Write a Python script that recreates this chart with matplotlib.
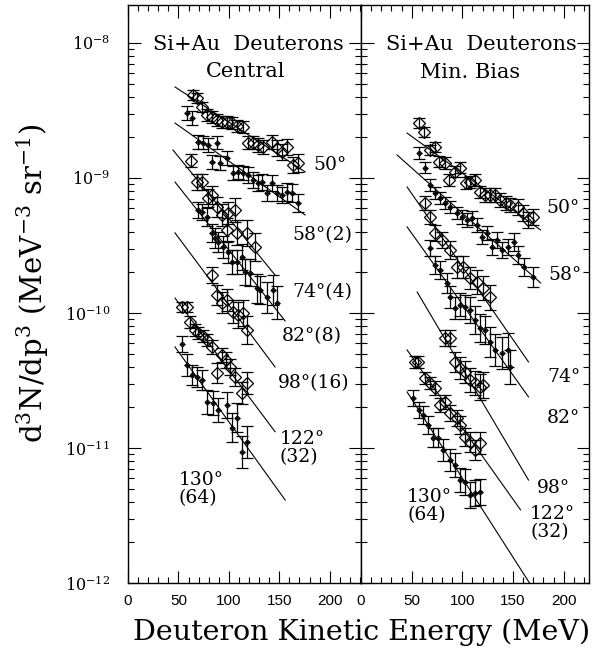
import numpy as np
import matplotlib.pyplot as plt
from matplotlib.ticker import MultipleLocator, LogLocator, NullFormatter

plt.rcParams['font.family'] = ['DejaVu Serif']
plt.rcParams['mathtext.fontset'] = 'dejavuserif'

# ---- Central (left panel) ----
# 50 deg, open diamonds
c50_E = [64.5, 68.5, 73.4, 78.4, 83.3, 88.3, 93.3, 98.2, 103.2, 108.1, 114.1, 119, 124, 129, 134, 142.9, 147.8, 152.8, 157.7, 163.7, 168.7]
c50_y = [4.1e-9, 3.92e-9, 3.36e-9, 2.93e-9, 2.83e-9, 2.69e-9, 2.60e-9, 2.60e-9, 2.55e-9, 2.43e-9, 2.38e-9, 1.82e-9, 1.82e-9, 1.75e-9, 1.70e-9, 1.85e-9, 1.67e-9, 1.56e-9, 1.70e-9, 1.25e-9, 1.29e-9]
c50_err = [0.09, 0.09, 0.09, 0.1, 0.1, 0.1, 0.1, 0.1, 0.1, 0.11, 0.11, 0.12, 0.12, 0.12, 0.13, 0.13, 0.14, 0.14, 0.15, 0.15, 0.16]
# 58 deg (x2), small points
c58_E = [58.5, 63.5, 69.4, 74.4, 79.4, 88.3, 83.3, 91.3, 98.2, 104.2, 109.1, 114.1, 119, 124, 129, 132.9, 137.9, 142.9, 147.8, 152.8, 157.7, 162.7, 168.7]
c58_y = [3.03e-9, 2.78e-9, 1.85e-9, 1.82e-9, 1.75e-9, 1.82e-9, 1.32e-9, 1.29e-9, 1.41e-9, 1.09e-9, 1.11e-9, 1.09e-9, 1.05e-9, 9.66e-10, 9.18e-10, 9.33e-10, 7.74e-10, 9.18e-10, 7.74e-10, 7.48e-10, 7.87e-10, 7.74e-10, 6.53e-10]
c58_err = [0.12, 0.12, 0.12, 0.12, 0.12, 0.12, 0.13, 0.13, 0.13, 0.13, 0.13, 0.13, 0.14, 0.14, 0.14, 0.14, 0.15, 0.15, 0.15, 0.15, 0.16, 0.16, 0.17]
# 74 deg (x4), open diamonds
c74_E = [62.5, 68.5, 73.4, 79.4, 83.3, 88.3, 93.3, 99.2, 106.2, 98.2, 108.1, 118.1, 126]
c74_y = [1.34e-9, 9.33e-10, 9.33e-10, 7.11e-10, 7.48e-10, 6.10e-10, 5.32e-10, 5.51e-10, 5.79e-10, 4.12e-10, 3.92e-10, 3.92e-10, 3.08e-10]
c74_err = [0.12, 0.14, 0.14, 0.16, 0.16, 0.18, 0.2, 0.2, 0.22, 0.22, 0.24, 0.25, 0.26]
# 82 deg (x8), small points
c82_E = [69.4, 73.4, 78.4, 83.3, 86.3, 89.3, 94.2, 99.2, 103.2, 108.1, 113.1, 116.1, 121, 128, 131, 137.9, 143.8, 147.8]
c82_y = [5.79e-10, 5.60e-10, 5.14e-10, 3.92e-10, 3.60e-10, 3.36e-10, 3.08e-10, 2.83e-10, 2.39e-10, 2.39e-10, 2.60e-10, 2.01e-10, 1.98e-10, 1.53e-10, 1.48e-10, 1.31e-10, 1.48e-10, 1.19e-10]
c82_err = [0.15, 0.15, 0.16, 0.17, 0.18, 0.18, 0.2, 0.2, 0.22, 0.22, 0.24, 0.25, 0.26, 0.28, 0.28, 0.3, 0.3, 0.32]
# 98 deg (x16), open diamonds
c98_E = [83.3, 88.3, 93.3, 98.2, 104.2, 109.1, 114.1, 118.1]
c98_y = [1.91e-10, 1.36e-10, 1.19e-10, 1.25e-10, 1.02e-10, 9.66e-11, 1.0e-10, 7.48e-11]
c98_err = [0.15, 0.18, 0.2, 0.2, 0.22, 0.24, 0.25, 0.28]
# 122 deg (x32), open diamonds
c122_E = [53.6, 58.5, 61.5, 66.5, 69.4, 74.4, 78.4, 83.3, 88.3, 93.3, 97.2, 101.2, 106.2, 113.1, 118.1]
c122_y = [1.11e-10, 1.11e-10, 8.57e-11, 7.48e-11, 7.11e-11, 6.76e-11, 6.31e-11, 5.60e-11, 3.60e-11, 4.89e-11, 4.49e-11, 3.98e-11, 3.36e-11, 2.55e-11, 3.03e-11]
c122_err = [0.09, 0.09, 0.1, 0.1, 0.1, 0.11, 0.11, 0.12, 0.18, 0.13, 0.14, 0.15, 0.16, 0.2, 0.2]
# 130 deg (x64), small points
c130_E = [53.6, 58.5, 63.5, 68.5, 73.4, 78.4, 84.3, 89.3, 98.2, 103.2, 108.1, 113.1, 118.1]
c130_y = [5.89e-11, 4.12e-11, 3.48e-11, 3.36e-11, 3.19e-11, 2.19e-11, 2.15e-11, 1.91e-11, 2.08e-11, 1.41e-11, 1.67e-11, 9.33e-12, 1.11e-11]
c130_err = [0.15, 0.2, 0.18, 0.18, 0.18, 0.22, 0.22, 0.22, 0.25, 0.28, 0.28, 0.32, 0.32]

# fit lines (E start, E end, y start, y end)
c_fits = [(46.6, 175.6, 4.72e-9, 1.11e-9),
          (46.6, 175.6, 2.55e-9, 5.32e-10),
          (44.6, 145.8, 1.61e-9, 1.91e-10),
          (46.6, 155.8, 9.33e-10, 8.73e-11),
          (46.6, 145.8, 3.92e-10, 3.98e-11),
          (46.6, 145.8, 1.29e-10, 1.32e-11),
          (46.6, 155.8, 5.60e-11, 4.12e-12)]
c_labels = ['50°', '58°(2)', '74°(4)', '82°(8)', '98°(16)', '122°\n(32)', '130°\n(64)']

# ---- Min. Bias (right panel) ----
m50_E = [57.4, 62.4, 68.3, 73.3, 77.2, 83.2, 87.1, 93.1, 98, 104, 107.9, 112.9, 117.8, 122.8, 127.7, 132.7, 137.6, 142.6, 147.5, 154.5, 159.4, 164.4, 169.3]
m50_y = [2.55e-9, 2.19e-9, 1.61e-9, 1.70e-9, 1.32e-9, 1.29e-9, 9.66e-10, 1.11e-9, 1.19e-9, 9.18e-10, 9.33e-10, 9.66e-10, 7.87e-10, 7.48e-10, 7.48e-10, 7.48e-10, 6.87e-10, 6.53e-10, 6.31e-10, 6.10e-10, 5.51e-10, 4.89e-10, 5.14e-10]
m50_err = [0.09, 0.09, 0.09, 0.09, 0.1, 0.1, 0.1, 0.1, 0.1, 0.1, 0.11, 0.11, 0.11, 0.12, 0.12, 0.12, 0.13, 0.13, 0.13, 0.14, 0.14, 0.15, 0.15]
m58_E = [57.4, 63.4, 68.3, 73.3, 78.2, 83.2, 88.1, 95, 100, 105, 109.9, 114.9, 119.8, 124.8, 129.7, 134.7, 139.6, 145.5, 150.5, 154.5, 160.4, 169.3]
m58_y = [1.53e-9, 1.19e-9, 8.87e-10, 7.74e-10, 7.11e-10, 6.53e-10, 6.10e-10, 5.51e-10, 5.14e-10, 4.89e-10, 5.06e-10, 4.49e-10, 3.66e-10, 3.92e-10, 3.08e-10, 3.48e-10, 2.93e-10, 3.08e-10, 3.36e-10, 2.69e-10, 2.19e-10, 1.85e-10]
m58_err = [0.1, 0.1, 0.1, 0.1, 0.1, 0.11, 0.11, 0.11, 0.12, 0.12, 0.12, 0.13, 0.13, 0.13, 0.14, 0.14, 0.15, 0.15, 0.16, 0.16, 0.17, 0.18]
m74_E = [63.4, 68.3, 73.3, 80.2, 88.1, 95, 101, 107.9, 114.9, 120.8, 127.7]
m74_y = [6.53e-10, 5.14e-10, 3.92e-10, 3.48e-10, 2.93e-10, 2.19e-10, 2.19e-10, 1.82e-10, 1.70e-10, 1.53e-10, 1.31e-10]
m74_err = [0.12, 0.12, 0.14, 0.15, 0.16, 0.2, 0.2, 0.2, 0.22, 0.22, 0.24]
m82_E = [68.3, 73.3, 78.2, 85.1, 88.1, 93.1, 98, 103, 107.9, 112.9, 117.8, 122.8, 127.7, 132.7, 139.6, 144.6, 147.5]
m82_y = [3.03e-10, 2.27e-10, 2.08e-10, 1.67e-10, 1.31e-10, 1.09e-10, 1.15e-10, 1.11e-10, 1.05e-10, 8.87e-11, 7.74e-11, 7.48e-11, 6.10e-11, 5.32e-11, 5.06e-11, 5.32e-11, 3.98e-11]
m82_err = [0.15, 0.16, 0.17, 0.18, 0.2, 0.2, 0.22, 0.22, 0.24, 0.26, 0.28, 0.28, 0.3, 0.32, 0.32, 0.34, 0.34]
m98_E = [83.2, 88.1, 93.1, 98, 103, 107.9, 112.9, 117.8, 120.8]
m98_y = [6.53e-11, 6.53e-11, 4.34e-11, 3.92e-11, 3.66e-11, 3.19e-11, 3.03e-11, 2.83e-11, 2.93e-11]
m98_err = [0.15, 0.15, 0.18, 0.2, 0.2, 0.22, 0.22, 0.25, 0.25]
m122_E = [53.5, 56.4, 63.4, 68.3, 73.3, 78.2, 83.2, 88.1, 95, 98, 103, 107.9, 112.9, 117.8]
m122_y = [4.34e-11, 4.34e-11, 3.30e-11, 3.03e-11, 2.78e-11, 2.08e-11, 2.19e-11, 1.82e-11, 1.67e-11, 1.48e-11, 1.21e-11, 1.11e-11, 9.66e-12, 1.09e-11]
m122_err = [0.1, 0.1, 0.11, 0.11, 0.12, 0.12, 0.13, 0.14, 0.15, 0.16, 0.17, 0.18, 0.19, 0.2]
m130_E = [51.5, 57.4, 61.4, 66.3, 71.3, 76.2, 81.2, 88.1, 93.1, 98, 103, 107.9, 112.9, 117.8]
m130_y = [2.34e-11, 1.91e-11, 1.75e-11, 1.48e-11, 1.19e-11, 1.19e-11, 9.66e-12, 8.15e-12, 7.48e-12, 5.79e-12, 5.60e-12, 4.49e-12, 4.64e-12, 4.72e-12]
m130_err = [0.15, 0.15, 0.16, 0.17, 0.18, 0.18, 0.2, 0.2, 0.22, 0.22, 0.24, 0.25, 0.25, 0.25]

m_fits = [(45.5, 177.2, 2.15e-9, 4.12e-10),
          (35.6, 177.2, 1.48e-9, 1.67e-10),
          (45.5, 165.3, 8.57e-10, 4.34e-11),
          (45.5, 165.3, 4.34e-10, 2.39e-11),
          (55.4, 165.3, 1.43e-10, 5.79e-12),
          (45.5, 157.4, 5.32e-11, 3.48e-12),
          (45.5, 166.3, 2.60e-11, 1.0e-12)]
m_labels = ['50°', '58°', '74°', '82°', '98°', '122°\n(32)', '130°\n(64)']

central = [(c50_E, c50_y, c50_err, 'big'), (c58_E, c58_y, c58_err, 'small'),
           (c74_E, c74_y, c74_err, 'big'), (c82_E, c82_y, c82_err, 'small'),
           (c98_E, c98_y, c98_err, 'big'), (c122_E, c122_y, c122_err, 'big'),
           (c130_E, c130_y, c130_err, 'small')]
minbias = [(m50_E, m50_y, m50_err, 'big'), (m58_E, m58_y, m58_err, 'small'),
           (m74_E, m74_y, m74_err, 'big'), (m82_E, m82_y, m82_err, 'small'),
           (m98_E, m98_y, m98_err, 'big'), (m122_E, m122_y, m122_err, 'big'),
           (m130_E, m130_y, m130_err, 'small')]


def draw_series(ax, E, y, f, kind):
    E = np.array(E)
    y = np.array(y)
    f = np.array(f)
    yerr = [y * f / (1 + f), y * f]
    if kind == 'big':
        ax.errorbar(E, y, yerr=yerr, fmt='D', ms=6.5, mfc='none', mec='black', mew=0.9,
                    ecolor='black', elinewidth=0.9, capsize=4.5, capthick=0.9)
    else:
        ax.errorbar(E, y, yerr=yerr, fmt='D', ms=2.5, mfc='none', mec='black', mew=0.9,
                    ecolor='black', elinewidth=0.9, capsize=4.5, capthick=0.9)
        ax.errorbar(E, y, xerr=2.5, fmt='none', ecolor='black', elinewidth=0.9, capsize=0)


fig = plt.figure(figsize=(6.03, 6.56), dpi=100)
axL = fig.add_axes([128 / 603, 73 / 656, 233 / 603, 578 / 656])
axR = fig.add_axes([361 / 603, 73 / 656, 228 / 603, 578 / 656])

for ax, series, fits, xmax in [(axL, central, c_fits, 231), (axR, minbias, m_fits, 225)]:
    for E, y, f, kind in series:
        draw_series(ax, E, y, f, kind)
    for e0, e1, y0, y1 in fits:
        ax.plot([e0, e1], [y0, y1], color='black', lw=0.8)
    ax.set_yscale('log')
    ax.set_ylim(1e-12, 1.91e-8)
    ax.set_xlim(0, xmax)
    ax.xaxis.set_major_locator(MultipleLocator(50))
    ax.xaxis.set_minor_locator(MultipleLocator(10))
    ax.yaxis.set_minor_locator(LogLocator(base=10, subs=np.arange(2, 10), numticks=100))
    ax.yaxis.set_minor_formatter(NullFormatter())
    ax.tick_params(which='both', direction='in', top=True, right=True, width=0.8)
    ax.tick_params(which='major', length=9)
    ax.tick_params(which='minor', length=4.5)
    ax.tick_params(axis='x', pad=8, labelsize=11, labelfontfamily='Liberation Sans')
    for sp in ax.spines.values():
        sp.set_linewidth(1.0)

axL.tick_params(axis='y', pad=13, labelsize=11.5)
axR.tick_params(axis='y', labelleft=False)

# curve labels
c_pos = [(200, 1.25e-9), (193, 3.78e-10), (193, 1.43e-10), (182, 6.76e-11),
         (184, 3.03e-11), (150, 1.0e-11), (50, 4.97e-12)]
for (x, y), t in zip(c_pos, c_labels):
    ha = 'left' if '\n' in t else 'center'
    axL.text(x, y, t, ha=ha, va='center', fontsize=13.5, linespacing=1.05)
m_pos = [(199, 6.0e-10), (201, 1.91e-10), (200, 3.36e-11), (200, 1.67e-11),
         (190, 5.06e-12), (167, 2.78e-12), (45.5, 3.72e-12)]
for (x, y), t in zip(m_pos, m_labels):
    ha = 'left' if '\n' in t else 'center'
    axR.text(x, y, t, ha=ha, va='center', fontsize=13.5, linespacing=1.05)

axL.text(119, 9.66e-9, 'Si+Au  Deuterons', ha='center', va='center', fontsize=15)
axL.text(117, 6.1e-9, 'Central', ha='center', va='center', fontsize=15)
axR.text(119, 9.66e-9, 'Si+Au  Deuterons', ha='center', va='center', fontsize=15)
axR.text(108, 6.0e-9, 'Min. Bias', ha='center', va='center', fontsize=15)

fig.text(362 / 603, 24 / 656, 'Deuteron Kinetic Energy (MeV)', ha='center', va='center', fontsize=20.5)
fig.text(33 / 603, (656 - 283) / 656, r'$\mathregular{d^3N/dp^3\ (MeV^{-3}\ sr^{-1})}$',
         rotation=90, ha='center', va='center', fontsize=21)

fig.savefig('out.png', dpi=100)
